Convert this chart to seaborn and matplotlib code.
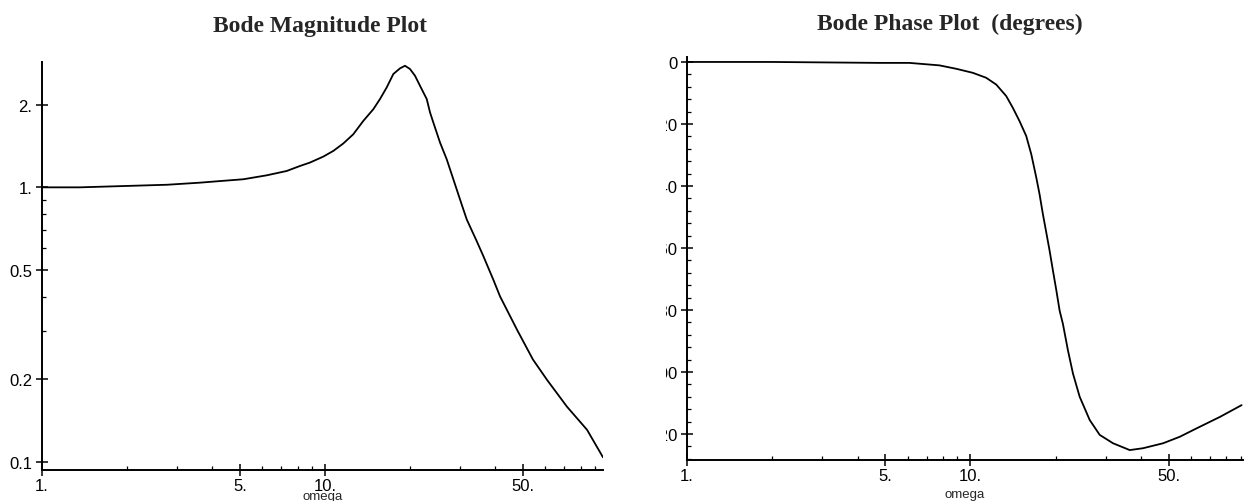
import numpy as np
import pandas as pd
import matplotlib
matplotlib.use("Agg")
import matplotlib.pyplot as plt
import matplotlib.ticker as mticker
from matplotlib.transforms import Bbox, TransformedBbox
import seaborn as sns

# Magnitude response |H(j omega)|
mag_omega = [1.0, 1.36, 2.77, 3.617, 4.256, 5.144, 6.223, 7.322, 8.156, 8.851,
             9.862, 10.70, 11.60, 12.59, 13.66, 14.82, 15.64, 16.52, 17.43,
             18.41, 19.17, 19.97, 20.80, 21.66, 22.88, 23.50, 24.14, 25.49,
             26.92, 28.41, 29.99, 31.68, 34.36, 36.26, 39.33, 41.53, 47.7,
             54.3, 60.9, 71.6, 84.3, 96.0]
mag_value = [1.0, 1.0, 1.022, 1.040, 1.054, 1.070, 1.106, 1.147, 1.196, 1.231,
             1.294, 1.357, 1.444, 1.561, 1.746, 1.926, 2.096, 2.311, 2.585,
             2.712, 2.771, 2.696, 2.548, 2.343, 2.096, 1.874, 1.722, 1.456,
             1.265, 1.070, 0.904, 0.764, 0.637, 0.562, 0.461, 0.401, 0.303,
             0.236, 0.199, 0.159, 0.131, 0.104]

# Phase response in degrees
phase_omega = [1.0, 2.0, 4.769, 6.087, 7.772, 8.904, 10.19, 11.36, 12.33, 13.37,
               14.11, 14.90, 15.73, 16.39, 17.07, 17.53, 18.01, 18.51, 19.02,
               19.54, 20.09, 20.63, 21.19, 22.07, 22.99, 24.28, 26.34, 28.57,
               31.83, 36.47, 40.63, 47.82, 54.77, 62.74, 75.86, 90.48]
phase_deg = [0.0, 0.0, -0.3, -0.3, -1.1, -2.2, -3.5, -5.1, -7.3, -11.0,
             -14.8, -19.1, -23.9, -29.8, -37.3, -42.7, -49.1, -55.0, -60.9,
             -67.3, -73.7, -80.2, -84.5, -93.0, -100.5, -108.0, -115.5, -120.3,
             -123.0, -125.2, -124.6, -123.0, -120.9, -118.2, -114.5, -110.7]

x_ticks = [1, 5, 10, 50]
x_tick_labels = ["1.", "5.", "10.", "50."]
mag_ticks = [0.1, 0.2, 0.5, 1, 2]
mag_tick_labels = ["0.1", "0.2", "0.5", "1.", "2."]
phase_ticks = [0, -20, -40, -60, -80, -100, -120]
phase_tick_labels = ["0", "-20", "-40", "-60", "-80", "-100", "-120"]

sns.set_theme(style="ticks")
plt.rcParams["font.family"] = ["Liberation Sans", "DejaVu Sans"]
plt.rcParams["axes.linewidth"] = 1.4
plt.rcParams["axes.edgecolor"] = "black"

W, H = 1248, 502
fig = plt.figure(figsize=(W / 100, H / 100), dpi=100)
fig.patch.set_facecolor("white")


def px_axes(left, top, right, bottom):
    return [left / W, 1 - bottom / H, (right - left) / W, (bottom - top) / H]


ax_mag = fig.add_axes(px_axes(42, 63, 603, 471))
ax_ph = fig.add_axes(px_axes(687, 58, 1243, 461))

mag_df = pd.DataFrame({"omega": mag_omega, "magnitude": mag_value})
phase_df = pd.DataFrame({"omega": phase_omega, "phase": phase_deg})

sns.lineplot(data=mag_df, x="omega", y="magnitude", ax=ax_mag,
             color="black", linewidth=1.3)
sns.lineplot(data=phase_df, x="omega", y="phase", ax=ax_ph,
             color="black", linewidth=1.3)

for ax in (ax_mag, ax_ph):
    ax.set_xscale("log")
    ax.set_facecolor("white")
    sns.despine(ax=ax)
    ax.xaxis.set_major_locator(mticker.FixedLocator(x_ticks))
    ax.xaxis.set_major_formatter(mticker.FixedFormatter(x_tick_labels))
    ax.xaxis.set_minor_locator(mticker.LogLocator(base=10, subs=np.arange(2, 10)))
    ax.xaxis.set_minor_formatter(mticker.NullFormatter())
    ax.tick_params(which="major", direction="inout", length=8, width=1.1,
                   color="black", labelsize=12, labelcolor="black")
    ax.tick_params(axis="x", which="major", pad=2)
    ax.tick_params(axis="y", which="major", pad=3)
    ax.tick_params(which="minor", direction="in", length=3, width=0.9,
                   color="black")
    ax.set_xlabel("omega", fontsize=9.5, labelpad=0)
    ax.set_ylabel("")

ax_mag.set_yscale("log")
ax_mag.set_xlim(1, 96)
ax_mag.set_ylim(0.0935, 2.86)
ax_mag.yaxis.set_major_locator(mticker.FixedLocator(mag_ticks))
ax_mag.yaxis.set_major_formatter(mticker.FixedFormatter(mag_tick_labels))
ax_mag.yaxis.set_minor_locator(mticker.LogLocator(base=10, subs=np.arange(2, 10)))
ax_mag.yaxis.set_minor_formatter(mticker.NullFormatter())

ax_ph.set_xlim(1, 91.5)
ax_ph.set_ylim(-128.4, 1.6)
ax_ph.yaxis.set_major_locator(mticker.FixedLocator(phase_ticks))
ax_ph.yaxis.set_major_formatter(mticker.FixedFormatter(phase_tick_labels))
ax_ph.yaxis.set_minor_locator(mticker.MultipleLocator(4))

# "omega" sits right under the tick labels, at the bottom edge of the figure
ax_mag.xaxis.set_label_coords(0.5, -(491 - 471) / (471 - 63))
ax_ph.xaxis.set_label_coords(0.5, -(489 - 461) / (461 - 58))

fig.text(320 / W, 1 - 32 / H, "Bode Magnitude Plot", ha="center", va="baseline",
         fontsize=17, fontweight="bold", family="Liberation Serif")
fig.text(950 / W, 1 - 30 / H, "Bode Phase Plot  (degrees)", ha="center",
         va="baseline", fontsize=17, fontweight="bold", family="Liberation Serif")

# The phase panel's vertical tick labels are cut off on their left side
fig.canvas.draw()
clip = TransformedBbox(Bbox([[665.5 / W, 0], [1, 1]]), fig.transFigure)
for lbl in ax_ph.get_yticklabels():
    lbl.set_clip_box(clip)
    lbl.set_clip_on(True)

fig.savefig("out.png", dpi=100, facecolor="white")
